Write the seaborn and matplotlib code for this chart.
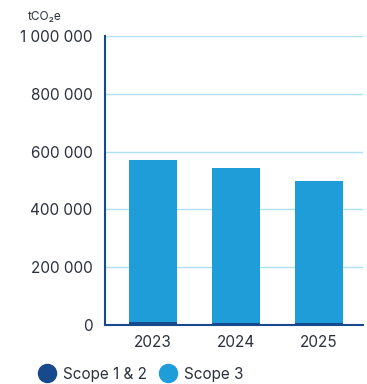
import matplotlib
matplotlib.use("Agg")
import matplotlib.pyplot as plt
from matplotlib.lines import Line2D
from matplotlib.ticker import FuncFormatter
import seaborn as sns
import pandas as pd

years = ["2023", "2024", "2025"]
scope12 = [9000, 8500, 8000]
scope3 = [561000, 536500, 492000]
yticks = [0, 200000, 400000, 600000, 800000, 1000000]

c_s12 = "#164a8c"
c_s3 = "#1e9dd9"
c_grid = "#ade0f5"
c_text = "#2b313d"

sns.set_theme(style="white")
plt.rcParams["font.family"] = ["Inter", "DejaVu Sans"]

df = pd.DataFrame({"year": years, "s12": scope12, "s3": scope3})
df["total"] = df["s12"] + df["s3"]

fig = plt.figure(figsize=(3.67, 3.84), dpi=100)
ax = fig.add_axes([0.286, 0.1536, 0.703, 0.7526])

# stacked bars: total in Scope 3 colour, Scope 1 & 2 drawn over its base
sns.barplot(data=df, x="year", y="total", color=c_s3, width=0.58,
            saturation=1, linewidth=0, ax=ax, zorder=3)
sns.barplot(data=df, x="year", y="s12", color=c_s12, width=0.58,
            saturation=1, linewidth=0, ax=ax, zorder=4)

ax.set_ylim(0, 1000000)
ax.set_xlim(-0.58, 2.53)
ax.set_yticks(yticks)
ax.yaxis.set_major_formatter(
    FuncFormatter(lambda v, _: f"{int(v):,}".replace(",", " ")))
ax.grid(axis="y", color=c_grid, linewidth=1.0, zorder=0)
ax.grid(axis="x", visible=False)
ax.set_axisbelow(True)

for s in ["top", "right"]:
    ax.spines[s].set_visible(False)
for s in ["left", "bottom"]:
    ax.spines[s].set_color(c_s12)
    ax.spines[s].set_linewidth(1.5)
    ax.spines[s].set_zorder(5)

ax.set_xlabel("")
ax.set_ylabel("")
ax.tick_params(axis="both", length=0, labelsize=11, labelcolor=c_text)
ax.tick_params(axis="y", pad=9)
ax.tick_params(axis="x", pad=7)

fig.text(0.076, 0.955, "tCO\u2082e", fontsize=8.5, color=c_text,
         ha="left", va="center")

handles = [
    Line2D([], [], marker="o", linestyle="none", markersize=13,
           markerfacecolor=c_s12, markeredgecolor=c_s12, label="Scope 1 & 2"),
    Line2D([], [], marker="o", linestyle="none", markersize=13,
           markerfacecolor=c_s3, markeredgecolor=c_s3, label="Scope 3"),
]
fig.legend(handles=handles, loc="center", bbox_to_anchor=(0.385, 0.026),
           ncol=2, frameon=False, fontsize=11, labelcolor=c_text,
           handletextpad=0.55, columnspacing=0.9, handlelength=1.0,
           borderaxespad=0, borderpad=0)

fig.savefig("out.png", dpi=100)
